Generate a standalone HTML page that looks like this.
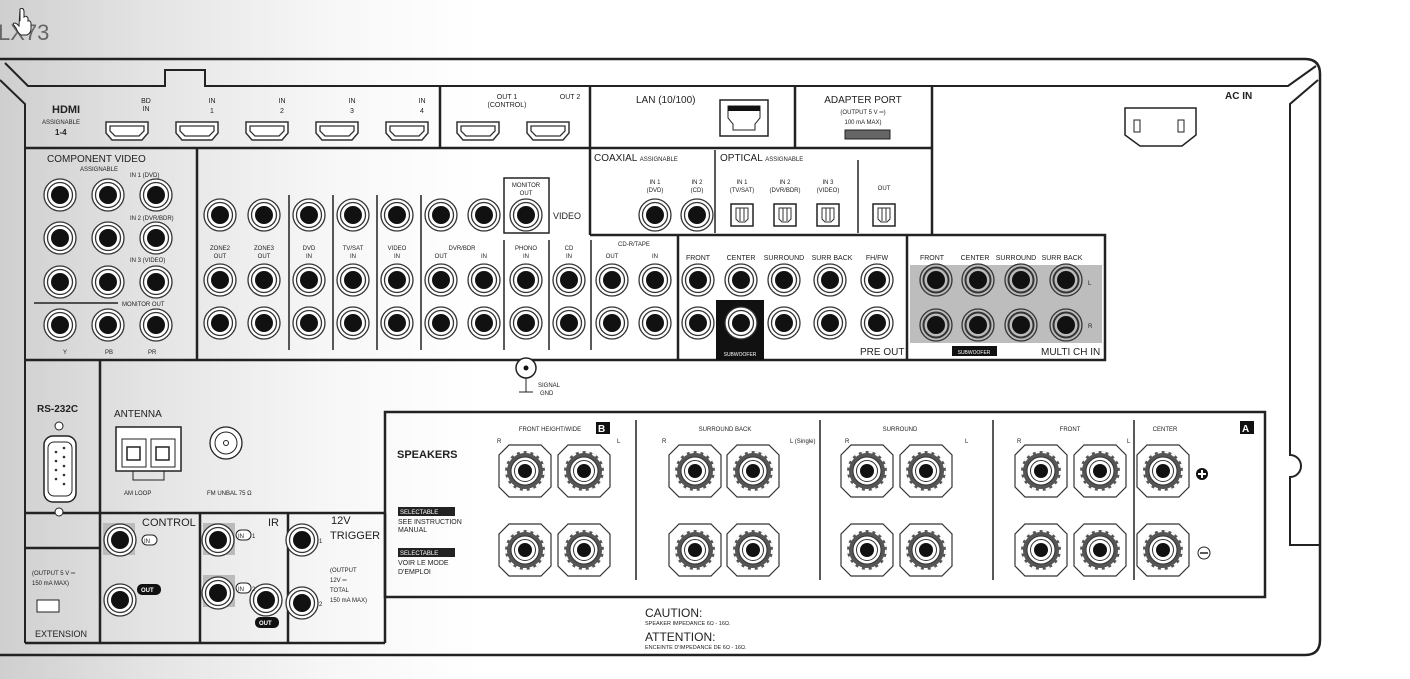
<!DOCTYPE html>
<html><head><meta charset="utf-8"><style>
html,body{margin:0;padding:0;}
body{width:1410px;height:674px;overflow:hidden;background:linear-gradient(90deg,#cfcfcf 0,#e4e4e4 150px,#f7f7f7 330px,#fff 480px);font-family:"Liberation Sans",sans-serif;}
svg text{font-family:"Liberation Sans",sans-serif;fill:#222;}
</style></head><body>
<svg width="1410" height="674" viewBox="0 0 1410 674" xmlns="http://www.w3.org/2000/svg">
<defs>
<g id="rca"><circle r="16" fill="#fff" stroke="#333" stroke-width="1.3"/><circle r="12.5" fill="none" stroke="#333" stroke-width="1.3"/><circle r="9" fill="#111"/></g>
<g id="rcag"><circle r="16" fill="#bbb" stroke="#333" stroke-width="1.3"/><circle r="12.5" fill="none" stroke="#333" stroke-width="2"/><circle r="9" fill="#111"/></g>
<g id="hdmi"><path d="M-21,-9H21V2L15,9H-15L-21,2Z" fill="#fff" stroke="#333" stroke-width="1.5"/><path d="M-17,-5H17V0L12,5H-12L-17,0Z" fill="none" stroke="#333" stroke-width="1.3"/></g>
<g id="opt"><rect x="-11" y="-11" width="22" height="22" fill="#fff" stroke="#222" stroke-width="1.5"/><path d="M-6,-7H6V4L3,7H-3L-6,4Z" fill="none" stroke="#333"/><line x1="-2" y1="-7" x2="-2" y2="6" stroke="#333"/><line x1="2" y1="-7" x2="2" y2="6" stroke="#333"/></g>
<g id="spk"><path d="M-16,-26H16L26,-16V16L16,26H-16L-26,16V-16Z" fill="#fff" stroke="#333" stroke-width="1.2"/><circle r="20" fill="#555"/><circle r="19" fill="none" stroke="#fff" stroke-width="2" stroke-dasharray="4 3"/><circle r="14" fill="#fff" stroke="#333"/><circle r="10.5" fill="none" stroke="#333"/><circle r="7" fill="#111"/></g>
</defs>

<text x="-2" y="40" font-size="22" fill="#666" style="fill:#666">LX73</text>
<path d="M20,9 v12 M20,9 q3,-2 4,2 v6 q2,-2 4,1 v3 q2,-1 3,2 v6 q0,4 -4,6 h-6 q-3,-2 -5,-7 l-3,-4 q1,-2 4,0 l2,2 z" fill="#fff" stroke="#222"/>

<!-- chassis -->
<g fill="none" stroke="#222" stroke-width="2.5">
<path d="M0,59 H1305 Q1320,59 1320,74 V640 Q1320,655 1305,655 H0"/>
<path d="M5,63 L28,86 H165 V70 H205 V86 H1288 L1316,66" stroke-width="2"/>
<path d="M0,80 L25,104 V643" stroke-width="2"/>
<path d="M1318,80 L1290,104 V455 A10,10 0 0 1 1290,477 V545 H1320" stroke-width="2"/>
<!-- sections -->
<path d="M25,148 H932 M440,86 V148 M590,86 V235 M795,86 V148 M932,86 V235 M590,235 H1105 V360 H25 M197,148 V360 M678,235 V360 M907,235 V360" />
<path d="M100,360 V643 M25,513 H385 M200,513 V643 M288,513 V643 M385,513 V643 M25,643 H385 M25,548 H100" />
<rect x="385" y="412" width="880" height="185"/>
</g>
<g stroke="#222" stroke-width="1.5">
<line x1="715" y1="150" x2="715" y2="233"/><line x1="858" y1="160" x2="858" y2="233"/>
<line x1="289" y1="195" x2="289" y2="350"/><line x1="333" y1="195" x2="333" y2="350"/><line x1="377" y1="195" x2="377" y2="350"/><line x1="421" y1="195" x2="421" y2="350"/><line x1="504" y1="240" x2="504" y2="350"/><line x1="549" y1="240" x2="549" y2="350"/><line x1="591" y1="240" x2="591" y2="350"/>
<line x1="34" y1="303" x2="118" y2="303"/>
<line x1="636" y1="420" x2="636" y2="580"/><line x1="820" y1="420" x2="820" y2="580"/><line x1="993" y1="420" x2="993" y2="580"/><line x1="1134" y1="420" x2="1134" y2="580"/>
</g>

<!-- HDMI -->
<text x="52" y="113" font-size="11" font-weight="bold">HDMI</text>
<text x="42" y="124" font-size="6">ASSIGNABLE</text>
<text x="55" y="135" font-size="8" font-weight="bold">1-4</text>
<g font-size="7" text-anchor="middle">
<text x="146" y="103">BD</text><text x="146" y="111">IN</text>
<text x="212" y="103">IN</text><text x="212" y="113">1</text>
<text x="282" y="103">IN</text><text x="282" y="113">2</text>
<text x="352" y="103">IN</text><text x="352" y="113">3</text>
<text x="422" y="103">IN</text><text x="422" y="113">4</text>
<text x="507" y="99">OUT 1</text><text x="507" y="107">(CONTROL)</text><text x="570" y="99">OUT 2</text>
</g>
<use href="#hdmi" x="127" y="131"/><use href="#hdmi" x="197" y="131"/><use href="#hdmi" x="267" y="131"/><use href="#hdmi" x="337" y="131"/><use href="#hdmi" x="407" y="131"/><use href="#hdmi" x="478" y="131"/><use href="#hdmi" x="548" y="131"/>

<text x="636" y="103" font-size="10">LAN (10/100)</text>
<rect x="720" y="100" width="48" height="36" fill="#fff" stroke="#222" stroke-width="1.5"/>
<path d="M728,106 H760 V118 L755,124 V130 H733 V124 L728,118Z" fill="#fff" stroke="#222"/><rect x="728" y="106" width="32" height="5" fill="#111"/>
<text x="863" y="103" font-size="10" text-anchor="middle">ADAPTER PORT</text>
<text x="863" y="114" font-size="6" text-anchor="middle">(OUTPUT 5 V ═)</text>
<text x="863" y="124" font-size="6" text-anchor="middle">100 mA MAX)</text>
<rect x="845" y="130" width="45" height="9" fill="#666" stroke="#222"/>

<text x="1225" y="99" font-size="10" font-weight="bold">AC IN</text>
<path d="M1125,108 H1196 V135 L1182,146 H1140 L1125,135Z" fill="#fff" stroke="#222" stroke-width="1.5"/>
<rect x="1134" y="120" width="6" height="12" fill="#fff" stroke="#222"/><rect x="1178" y="120" width="6" height="12" fill="#fff" stroke="#222"/>

<!-- component -->
<text x="47" y="162" font-size="10">COMPONENT VIDEO</text>
<text x="80" y="171" font-size="6">ASSIGNABLE</text>
<g font-size="6"><text x="130" y="177">IN 1 (DVD)</text><text x="130" y="220">IN 2 (DVR/BDR)</text><text x="130" y="262">IN 3 (VIDEO)</text><text x="122" y="306">MONITOR OUT</text><text x="63" y="354">Y</text><text x="105" y="354">PB</text><text x="148" y="354">PR</text></g>
<use href="#rca" x="60" y="195"/><use href="#rca" x="108" y="195"/><use href="#rca" x="156" y="195"/>
<use href="#rca" x="60" y="238"/><use href="#rca" x="108" y="238"/><use href="#rca" x="156" y="238"/>
<use href="#rca" x="60" y="282"/><use href="#rca" x="108" y="282"/><use href="#rca" x="156" y="282"/>
<use href="#rca" x="60" y="325"/><use href="#rca" x="108" y="325"/><use href="#rca" x="156" y="325"/>

<!-- video -->
<rect x="504" y="178" width="45" height="55" fill="none" stroke="#222" stroke-width="1.5"/>
<text x="526" y="187" font-size="6" text-anchor="middle">MONITOR</text><text x="526" y="195" font-size="6" text-anchor="middle">OUT</text>
<text x="553" y="219" font-size="9">VIDEO</text>
<g font-size="6" text-anchor="middle">
<text x="220" y="250">ZONE2</text><text x="220" y="258">OUT</text><text x="264" y="250">ZONE3</text><text x="264" y="258">OUT</text>
<text x="309" y="250">DVD</text><text x="309" y="258">IN</text><text x="353" y="250">TV/SAT</text><text x="353" y="258">IN</text>
<text x="397" y="250">VIDEO</text><text x="397" y="258">IN</text><text x="462" y="250">DVR/BDR</text><text x="441" y="258">OUT</text><text x="484" y="258">IN</text>
<text x="526" y="250">PHONO</text><text x="526" y="258">IN</text><text x="569" y="250">CD</text><text x="569" y="258">IN</text>
<text x="634" y="246">CD-R/TAPE</text><text x="612" y="258">OUT</text><text x="655" y="258">IN</text>
</g>
<use href="#rca" x="220" y="215"/><use href="#rca" x="264" y="215"/><use href="#rca" x="309" y="215"/><use href="#rca" x="353" y="215"/><use href="#rca" x="397" y="215"/><use href="#rca" x="441" y="215"/><use href="#rca" x="484" y="215"/><use href="#rca" x="526" y="215"/>
<g id="r2"><use href="#rca" x="220" y="280"/><use href="#rca" x="264" y="280"/><use href="#rca" x="309" y="280"/><use href="#rca" x="353" y="280"/><use href="#rca" x="397" y="280"/><use href="#rca" x="441" y="280"/><use href="#rca" x="484" y="280"/><use href="#rca" x="526" y="280"/><use href="#rca" x="569" y="280"/><use href="#rca" x="612" y="280"/><use href="#rca" x="655" y="280"/></g>
<use href="#r2" y="43"/>

<!-- coax/opt -->
<text x="594" y="161" font-size="10">COAXIAL <tspan font-size="6">ASSIGNABLE</tspan></text>
<text x="720" y="161" font-size="10">OPTICAL <tspan font-size="6">ASSIGNABLE</tspan></text>
<g font-size="6" text-anchor="middle"><text x="655" y="184">IN 1</text><text x="655" y="192">(DVD)</text><text x="697" y="184">IN 2</text><text x="697" y="192">(CD)</text>
<text x="742" y="184">IN 1</text><text x="742" y="192">(TV/SAT)</text><text x="785" y="184">IN 2</text><text x="785" y="192">(DVR/BDR)</text><text x="828" y="184">IN 3</text><text x="828" y="192">(VIDEO)</text><text x="884" y="190">OUT</text></g>
<use href="#rca" x="655" y="215"/><use href="#rca" x="697" y="215"/>
<use href="#opt" x="742" y="215"/><use href="#opt" x="785" y="215"/><use href="#opt" x="828" y="215"/><use href="#opt" x="884" y="215"/>

<!-- pre out -->
<g font-size="7" text-anchor="middle"><text x="698" y="260">FRONT</text><text x="741" y="260">CENTER</text><text x="784" y="260">SURROUND</text><text x="832" y="260">SURR BACK</text><text x="877" y="260">FH/FW</text></g>
<rect x="716" y="300" width="48" height="60" fill="#111"/>
<text x="740" y="356" font-size="5" text-anchor="middle" style="fill:#fff">SUBWOOFER</text>
<use href="#rca" x="698" y="280"/><use href="#rca" x="741" y="280"/><use href="#rca" x="784" y="280"/><use href="#rca" x="830" y="280"/><use href="#rca" x="877" y="280"/>
<use href="#rca" x="698" y="323"/><use href="#rca" x="741" y="323"/><use href="#rca" x="784" y="323"/><use href="#rca" x="830" y="323"/><use href="#rca" x="877" y="323"/>
<text x="860" y="355" font-size="10">PRE OUT</text>

<!-- multi ch -->
<rect x="910" y="265" width="192" height="78" fill="#bdbdbd"/>
<g font-size="7" text-anchor="middle"><text x="932" y="260">FRONT</text><text x="975" y="260">CENTER</text><text x="1016" y="260">SURROUND</text><text x="1062" y="260">SURR BACK</text></g>
<use href="#rcag" x="936" y="280"/><use href="#rcag" x="978" y="280"/><use href="#rcag" x="1021" y="280"/><use href="#rcag" x="1066" y="280"/>
<use href="#rcag" x="936" y="325"/><use href="#rcag" x="978" y="325"/><use href="#rcag" x="1021" y="325"/><use href="#rcag" x="1066" y="325"/>
<text x="1088" y="285" font-size="6">L</text><text x="1088" y="328" font-size="6">R</text>
<rect x="952" y="346" width="45" height="10" fill="#111"/><text x="974" y="354" font-size="5" text-anchor="middle" style="fill:#fff">SUBWOOFER</text>
<text x="1041" y="355" font-size="10">MULTI CH IN</text>

<!-- signal gnd -->
<circle cx="526" cy="368" r="10" fill="#fff" stroke="#222" stroke-width="1.5"/><circle cx="526" cy="368" r="2.5" fill="#111"/>
<line x1="526" y1="378" x2="526" y2="392" stroke="#222"/><line x1="519" y1="392" x2="533" y2="392" stroke="#222"/>
<text x="538" y="387" font-size="6">SIGNAL</text><text x="540" y="395" font-size="6">GND</text>

<!-- rs232 / antenna -->
<text x="37" y="412" font-size="10" font-weight="bold">RS-232C</text>
<circle cx="59" cy="426" r="4" fill="#fff" stroke="#222"/><circle cx="59" cy="512" r="4" fill="#fff" stroke="#222"/>
<rect x="44" y="436" width="32" height="66" rx="9" fill="#fff" stroke="#222" stroke-width="1.5"/><rect x="48" y="442" width="24" height="54" rx="6" fill="none" stroke="#222"/>
<g fill="#333"><circle cx="56" cy="452" r="1.3"/><circle cx="56" cy="461" r="1.3"/><circle cx="56" cy="470" r="1.3"/><circle cx="56" cy="479" r="1.3"/><circle cx="64" cy="448" r="1.3"/><circle cx="64" cy="457" r="1.3"/><circle cx="64" cy="466" r="1.3"/><circle cx="64" cy="475" r="1.3"/><circle cx="64" cy="484" r="1.3"/></g>
<text x="114" y="417" font-size="10">ANTENNA</text>
<rect x="116" y="427" width="65" height="44" fill="#fff" stroke="#222" stroke-width="1.5"/>
<rect x="122" y="439" width="24" height="28" fill="#fff" stroke="#222"/><rect x="151" y="439" width="24" height="28" fill="#fff" stroke="#222"/>
<rect x="127" y="447" width="13" height="13" fill="#fff" stroke="#222" stroke-width="1.5"/><rect x="156" y="447" width="13" height="13" fill="#fff" stroke="#222" stroke-width="1.5"/>
<path d="M133,471 V480 H164 V471" fill="none" stroke="#222"/>
<text x="124" y="495" font-size="6">AM LOOP</text>
<circle cx="226" cy="443" r="16" fill="#fff" stroke="#222" stroke-width="1.3"/><circle cx="226" cy="443" r="11" fill="none" stroke="#222"/><circle cx="226" cy="443" r="2.5" fill="#fff" stroke="#222"/>
<text x="207" y="495" font-size="6">FM UNBAL 75 Ω</text>

<!-- control / ir / trigger -->
<rect x="103" y="523" width="32" height="32" fill="#bbb"/><rect x="203" y="523" width="32" height="32" fill="#bbb"/><rect x="203" y="575" width="32" height="32" fill="#bbb"/>
<text x="142" y="526" font-size="11">CONTROL</text><text x="268" y="526" font-size="11">IR</text>
<text x="331" y="524" font-size="11">12V</text><text x="330" y="539" font-size="11">TRIGGER</text>
<use href="#rca" x="120" y="540"/><use href="#rca" x="120" y="600"/>
<use href="#rca" x="218" y="540"/><use href="#rca" x="218" y="593"/><use href="#rca" x="266" y="600"/>
<use href="#rca" x="302" y="540"/><use href="#rca" x="302" y="603"/>
<g font-size="6"><rect x="142" y="535" width="15" height="10" rx="5" fill="#fff" stroke="#222"/><text x="144" y="543">IN</text>
<rect x="137" y="584" width="24" height="11" rx="5" fill="#111"/><text x="141" y="592" style="fill:#fff" font-weight="bold">OUT</text>
<rect x="236" y="530" width="15" height="10" rx="5" fill="#fff" stroke="#222"/><text x="238" y="538">IN</text><text x="252" y="538">1</text>
<rect x="236" y="583" width="15" height="10" rx="5" fill="#fff" stroke="#222"/><text x="238" y="591">IN</text><text x="252" y="591">2</text>
<rect x="255" y="617" width="24" height="11" rx="5" fill="#111"/><text x="259" y="625" style="fill:#fff" font-weight="bold">OUT</text>
<text x="319" y="543">1</text><text x="319" y="606">2</text>
<text x="330" y="572">(OUTPUT</text><text x="330" y="582">12V ═</text><text x="330" y="592">TOTAL</text><text x="330" y="602">150 mA MAX)</text>
<text x="32" y="575">(OUTPUT 5 V ═</text><text x="32" y="585">150 mA MAX)</text></g>
<rect x="37" y="600" width="22" height="12" fill="#fff" stroke="#222"/>
<text x="35" y="637" font-size="9">EXTENSION</text>

<!-- speakers -->
<text x="397" y="458" font-size="11" font-weight="bold">SPEAKERS</text>
<rect x="398" y="507" width="57" height="9" fill="#222"/><text x="400" y="514" font-size="6" style="fill:#fff">SELECTABLE</text>
<text x="398" y="524" font-size="7">SEE INSTRUCTION</text><text x="398" y="532" font-size="7">MANUAL</text>
<rect x="398" y="548" width="57" height="9" fill="#222"/><text x="400" y="555" font-size="6" style="fill:#fff">SELECTABLE</text>
<text x="398" y="565" font-size="7">VOIR LE MODE</text><text x="398" y="574" font-size="7">D'EMPLOI</text>
<g font-size="6" text-anchor="middle"><text x="550" y="431">FRONT HEIGHT/WIDE</text><text x="725" y="431">SURROUND BACK</text><text x="900" y="431">SURROUND</text><text x="1070" y="431">FRONT</text><text x="1165" y="431">CENTER</text></g>
<rect x="596" y="422" width="14" height="12" fill="#111"/><text x="598" y="432" font-size="10" font-weight="bold" style="fill:#fff">B</text>
<rect x="1240" y="421" width="14" height="13" fill="#111"/><text x="1242" y="432" font-size="10" font-weight="bold" style="fill:#fff">A</text>
<g font-size="6"><text x="497" y="443">R</text><text x="617" y="443">L</text><text x="662" y="443">R</text><text x="790" y="443">L (Single)</text><text x="845" y="443">R</text><text x="965" y="443">L</text><text x="1017" y="443">R</text><text x="1127" y="443">L</text></g>
<g id="sp1"><use href="#spk" x="525" y="471"/><use href="#spk" x="584" y="471"/><use href="#spk" x="695" y="471"/><use href="#spk" x="753" y="471"/><use href="#spk" x="867" y="471"/><use href="#spk" x="926" y="471"/><use href="#spk" x="1041" y="471"/><use href="#spk" x="1100" y="471"/><use href="#spk" x="1163" y="471"/></g>
<use href="#sp1" y="79"/>
<circle cx="1202" cy="474" r="6" fill="#111"/><path d="M1198,474h8M1202,470v8" stroke="#fff" stroke-width="2"/>
<circle cx="1204" cy="553" r="6" fill="#fff" stroke="#222"/><path d="M1200,553h8" stroke="#222" stroke-width="1.5"/>

<text x="645" y="617" font-size="12">CAUTION:</text><text x="645" y="625" font-size="5.5">SPEAKER IMPEDANCE 6Ω - 16Ω.</text>
<text x="645" y="641" font-size="12">ATTENTION:</text><text x="645" y="649" font-size="5.5">ENCEINTE D'IMPEDANCE DE 6Ω - 16Ω.</text>
</svg>
</body></html>
